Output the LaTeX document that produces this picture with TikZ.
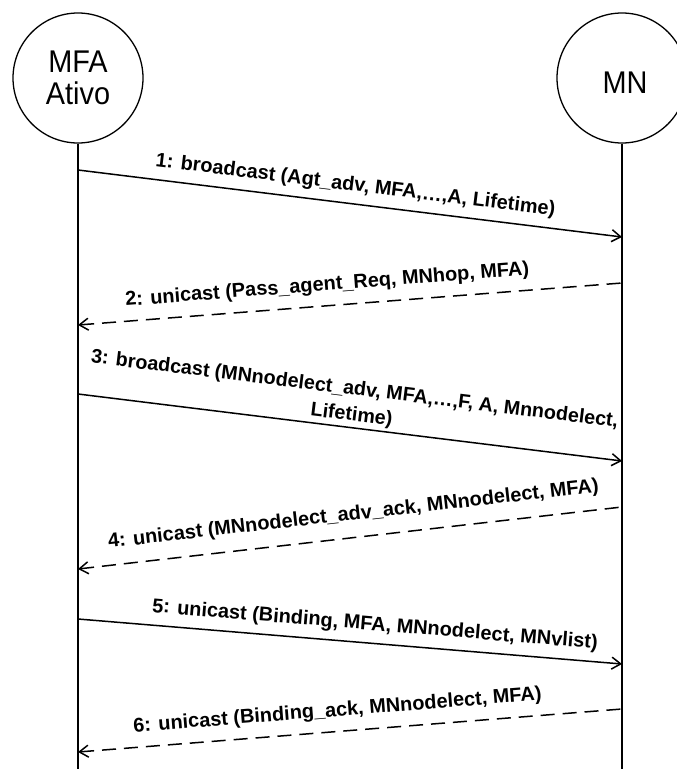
\documentclass[tikz,border=0pt]{standalone}
\usepackage{fontspec}
\setmainfont{Liberation Sans}
\newfontfamily\circfont[FakeStretch=0.92]{Liberation Sans}
\usetikzlibrary{arrows.meta}
\begin{document}
\begin{tikzpicture}[x=1bp,y=-1bp,
  actor/.style={circle, draw, line width=1.3bp, minimum size=130bp, inner sep=0pt, align=center,
    font=\fontsize{31.5}{32.5}\selectfont\circfont},
  lifeline/.style={line width=1.9bp},
  msgr/.style={line width=1.5bp, -{Straight Barb[length=9bp,width=12bp]}},
  msgl/.style={line width=1.5bp, dash pattern=on 14bp off 8bp, {Straight Barb[length=9bp,width=12bp]}-},
  lab/.style={font=\fontsize{20}{26}\selectfont\bfseries, inner sep=0pt, sloped, anchor=base}
]
\useasboundingbox (0,0) rectangle (677,769);
\node[actor] (mfa) at (78,78) {MFA\\Ativo};
\node[actor, text height=30.6bp, text depth=0pt] (mn) at (622,78) {\hspace*{6bp}MN};
\coordinate (mfaend) at (78,769);
\coordinate (mnend) at (622,769);
\draw[lifeline] (mfa.south) -- (mfaend);
\draw[lifeline] (mn.south) -- (mnend);

\coordinate (a1) at (78,170); \coordinate (b1) at (622,237);
\coordinate (a2) at (78,325); \coordinate (b2) at (622,283);
\coordinate (a3) at (78,394); \coordinate (b3) at (622,461);
\coordinate (a4) at (78,569); \coordinate (b4) at (622,507);
\coordinate (a5) at (78,619); \coordinate (b5) at (622,664);
\coordinate (a6) at (78,752); \coordinate (b6) at (622,709);

\draw[msgr] (a1) -- node[lab, pos=0.506, yshift=13bp] (l1) {1: broadcast (Agt\_adv, MFA,…,A, Lifetime)} (b1);
\draw[msgl] (a2) -- node[lab, pos=0.461, yshift=15.3bp] (l2) {2: unicast (Pass\_agent\_Req, MNhop, MFA)} (b2);
\draw[msgr] (a3) -- node[lab, anchor=south, align=center, pos=0.5, yshift=2bp,
  font=\fontsize{19.8}{26}\selectfont\bfseries] (l3) {3: broadcast (MNnodelect\_adv, MFA,…,F, A, Mnnodelect,\\Lifetime)} (b3);
\draw[msgl] (a4) -- node[lab, pos=0.511, yshift=17.5bp] (l4) {4: unicast (MNnodelect\_adv\_ack, MNnodelect, MFA)} (b4);
\draw[msgr] (a5) -- node[lab, pos=0.543, yshift=13bp] (l5) {5: unicast (Binding, MFA, MNnodelect, MNvlist)} (b5);
\draw[msgl] (a6) -- node[lab, pos=0.48, yshift=15.3bp] (l6) {6: unicast (Binding\_ack, MNnodelect, MFA)} (b6);
\end{tikzpicture}
\end{document}
